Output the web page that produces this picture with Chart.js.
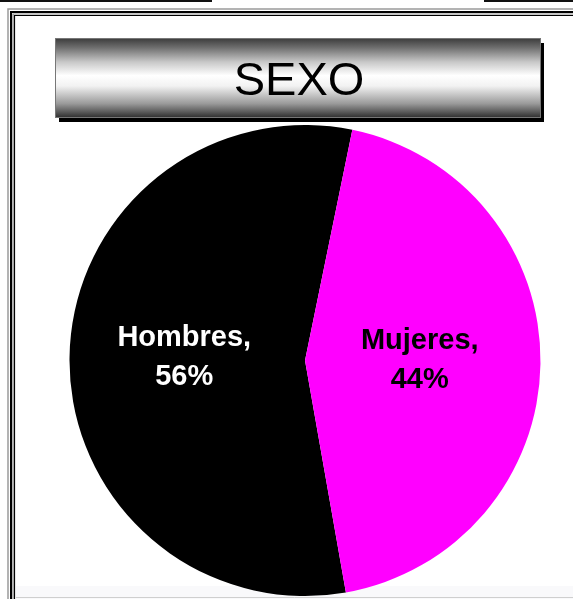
<!DOCTYPE html>
<html><head><meta charset="utf-8">
<script src="https://cdn.jsdelivr.net/npm/chart.js@4/dist/chart.umd.min.js"></script>
<style>html,body{margin:0;padding:0;background:#fff;}#wrap{width:573px;height:599px;position:relative;}</style>
</head><body><div id="wrap"><canvas id="c" width="573" height="599"></canvas></div>
<script>
const titleText = "SEXO";
const categories = ["Hombres", "Mujeres"];
const percentValues = [56, 44];
const sliceColors = ["#000000", "#ff00ff"];
const labelColors = ["#ffffff", "#000000"];

const frame = {
  id: 'frame',
  beforeDraw(chart) {
    const ctx = chart.ctx;
    ctx.save();
    ctx.fillStyle = '#fff';
    ctx.fillRect(0, 0, 573, 599);
    ctx.fillStyle = '#f9f9fb';
    ctx.fillRect(16, 586, 557, 13);
    ctx.fillStyle = '#111';
    ctx.fillRect(0, 0, 212, 2);
    ctx.fillRect(484, 0, 89, 2);
    const lines = [[8, '#9a9a9a', 1.5], [11, '#000', 2], [13, '#8a8a8a', 1.2], [14.5, '#000', 1.2]];
    lines.forEach(([p, col, w]) => {
      ctx.strokeStyle = col; ctx.lineWidth = w;
      ctx.beginPath();
      ctx.moveTo(p, 599); ctx.lineTo(p, p + 1); ctx.lineTo(573, p + 1);
      ctx.stroke();
    });
    ctx.strokeStyle = '#cfcfcf'; ctx.lineWidth = 1;
    ctx.beginPath(); ctx.moveTo(16, 597.5); ctx.lineTo(573, 597.5); ctx.stroke();
    ctx.fillStyle = '#000';
    ctx.fillRect(59, 43, 485, 79);
    const g = ctx.createLinearGradient(0, 38, 0, 118);
    g.addColorStop(0, '#3a3a3a');
    g.addColorStop(0.12, '#6e6e6e');
    g.addColorStop(0.3, '#c8c8c8');
    g.addColorStop(0.47, '#ffffff');
    g.addColorStop(0.6, '#f2f2f2');
    g.addColorStop(0.82, '#9a9a9a');
    g.addColorStop(1, '#2c2c2c');
    ctx.fillStyle = g;
    ctx.fillRect(55, 38, 486, 80);
    ctx.strokeStyle = '#777'; ctx.lineWidth = 1;
    ctx.strokeRect(55.5, 38.5, 485, 79);
    ctx.fillStyle = '#000';
    ctx.font = '47px "Liberation Sans", Arial, sans-serif';
    ctx.textAlign = 'center'; ctx.textBaseline = 'middle';
    ctx.fillText(titleText, 299, 82);
    ctx.restore();
  }
};

const sliceLabels = {
  id: 'sliceLabels',
  afterDatasetsDraw(chart) {
    const ctx = chart.ctx;
    const meta = chart.getDatasetMeta(0);
    ctx.save();
    ctx.font = 'bold 29px "Liberation Sans", Arial, sans-serif';
    ctx.textAlign = 'center'; ctx.textBaseline = 'middle';
    meta.data.forEach((arc, i) => {
      const p = arc.getProps(['x', 'y', 'startAngle', 'endAngle', 'outerRadius'], true);
      const mid = (p.startAngle + p.endAngle) / 2;
      const r = p.outerRadius * 0.5;
      const x = p.x + Math.cos(mid) * r - 3;
      const y = p.y + Math.sin(mid) * r;
      ctx.fillStyle = labelColors[i];
      ctx.fillText(categories[i] + ',', x, y - 21);
      ctx.fillText(percentValues[i] + '%', x, y + 18);
    });
    ctx.restore();
  }
};

new Chart(document.getElementById('c'), {
  type: 'pie',
  data: {
    labels: categories,
    datasets: [{ data: percentValues, backgroundColor: sliceColors, borderWidth: 0, hoverOffset: 0 }]
  },
  options: {
    responsive: false,
    animation: false,
    rotation: 170,
    layout: { padding: { left: 69.5, right: 32.5, top: 125, bottom: 3 } },
    plugins: { legend: { display: false }, tooltip: { enabled: false }, title: { display: false } }
  },
  plugins: [frame, sliceLabels]
});
</script></body></html>
